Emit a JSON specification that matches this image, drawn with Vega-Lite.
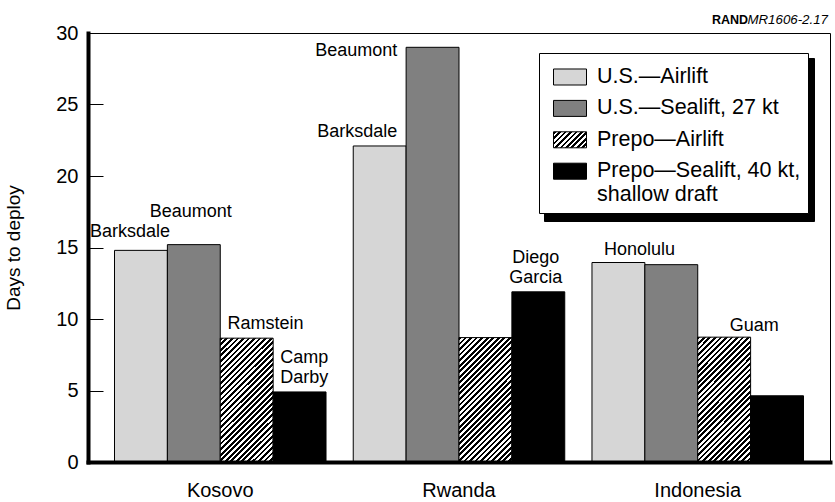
{
  "$schema": "https://vega.github.io/schema/vega-lite/v6.json",
  "width": 742,
  "height": 429,
  "autosize": {"type": "none"},
  "padding": {"left": 88, "top": 33, "right": 5, "bottom": 40},
  "background": "white",
  "config": {
    "font": "Liberation Sans",
    "view": {"stroke": "black", "strokeWidth": 1},
    "axis": {"grid": false}
  },
  "title": {
    "text": "RAND\u2800\u2800\u2800\u2800\u2800\u2800\u2800\u2800",
    "subtitle": "MR1606-2.17",
    "anchor": "end",
    "frame": "group",
    "fontSize": 12.5,
    "fontWeight": "bold",
    "color": "black",
    "subtitleFontSize": 13.3,
    "subtitleFontStyle": "italic",
    "subtitleFontWeight": "normal",
    "subtitleColor": "black",
    "subtitlePadding": -13,
    "offset": -4,
    "dx": -2
  },
  "data": {
    "values": [
      {"region": "Kosovo", "series": "U.S.—Airlift", "days": 14.8, "label": "Barksdale"},
      {"region": "Kosovo", "series": "U.S.—Sealift, 27 kt", "days": 15.2, "label": "Beaumont"},
      {"region": "Kosovo", "series": "Prepo—Airlift", "days": 8.66, "label": "Ramstein"},
      {"region": "Kosovo", "series": "Prepo—Sealift, 40 kt, shallow draft", "days": 4.9, "label": "Camp\nDarby"},
      {"region": "Rwanda", "series": "U.S.—Airlift", "days": 22.1, "label": "Barksdale"},
      {"region": "Rwanda", "series": "U.S.—Sealift, 27 kt", "days": 29.0, "label": "Beaumont"},
      {"region": "Rwanda", "series": "Prepo—Airlift", "days": 8.7, "label": ""},
      {"region": "Rwanda", "series": "Prepo—Sealift, 40 kt, shallow draft", "days": 11.9, "label": "Diego\nGarcia"},
      {"region": "Indonesia", "series": "U.S.—Airlift", "days": 13.95, "label": "Honolulu"},
      {"region": "Indonesia", "series": "U.S.—Sealift, 27 kt", "days": 13.8, "label": ""},
      {"region": "Indonesia", "series": "Prepo—Airlift", "days": 8.73, "label": "Guam"},
      {"region": "Indonesia", "series": "Prepo—Sealift, 40 kt, shallow draft", "days": 4.63, "label": ""}
    ]
  },
  "encoding": {
    "x": {
      "field": "region",
      "type": "nominal",
      "sort": ["Kosovo", "Rwanda", "Indonesia"],
      "scale": {"paddingInner": 0.114, "paddingOuter": 0.111},
      "axis": {
        "title": null,
        "ticks": false,
        "domainWidth": 4,
        "domainColor": "black",
        "domainCap": "square",
        "labelFontSize": 20,
        "labelPadding": 18,
        "labelAngle": 0,
        "labelColor": "black",
        "zindex": 1
      }
    },
    "xOffset": {
      "field": "series",
      "type": "nominal",
      "scale": {
        "domain": ["U.S.—Airlift", "U.S.—Sealift, 27 kt", "Prepo—Airlift", "Prepo—Sealift, 40 kt, shallow draft"],
        "paddingInner": 0,
        "paddingOuter": 0
      }
    },
    "y": {
      "field": "days",
      "type": "quantitative",
      "scale": {"domain": [0, 30], "nice": false},
      "axis": {
        "values": [0, 5, 10, 15, 20, 25, 30],
        "tickSize": -15,
        "tickWidth": 1,
        "tickColor": "black",
        "labelPadding": 25,
        "labelFontSize": 20,
        "labelColor": "black",
        "domainWidth": 4,
        "domainColor": "black",
        "domainCap": "square",
        "title": "Days to deploy",
        "titleFontSize": 19,
        "titleFontWeight": "normal",
        "titleColor": "black",
        "titleX": -65,
        "titleY": 214.5,
        "titleBaseline": "bottom",
        "titleAlign": "center",
        "zindex": 1
      }
    }
  },
  "layer": [
    {
      "mark": {"type": "bar", "stroke": "black", "strokeWidth": 1},
      "encoding": {
        "fill": {
          "field": "series",
          "type": "nominal",
          "scale": {
            "domain": ["U.S.—Airlift", "U.S.—Sealift, 27 kt", "Prepo—Airlift", "Prepo—Sealift, 40 kt, shallow draft"],
            "range": [
              "#d6d6d6",
              "#808080",
              {"expr": "{gradient: 'linear', x1: 0, y1: 0, x2: 1.2022, y2: 0.5829, stops: [{offset: 0, color: '#000'}, {offset: 0.0556, color: '#000'}, {offset: 0.0556, color: '#fff'}, {offset: 0.1111, color: '#fff'}, {offset: 0.1111, color: '#000'}, {offset: 0.1667, color: '#000'}, {offset: 0.1667, color: '#fff'}, {offset: 0.2222, color: '#fff'}, {offset: 0.2222, color: '#000'}, {offset: 0.2778, color: '#000'}, {offset: 0.2778, color: '#fff'}, {offset: 0.3333, color: '#fff'}, {offset: 0.3333, color: '#000'}, {offset: 0.3889, color: '#000'}, {offset: 0.3889, color: '#fff'}, {offset: 0.4444, color: '#fff'}, {offset: 0.4444, color: '#000'}, {offset: 0.5, color: '#000'}, {offset: 0.5, color: '#fff'}, {offset: 0.5556, color: '#fff'}, {offset: 0.5556, color: '#000'}, {offset: 0.6111, color: '#000'}, {offset: 0.6111, color: '#fff'}, {offset: 0.6667, color: '#fff'}, {offset: 0.6667, color: '#000'}, {offset: 0.7222, color: '#000'}, {offset: 0.7222, color: '#fff'}, {offset: 0.7778, color: '#fff'}, {offset: 0.7778, color: '#000'}, {offset: 0.8333, color: '#000'}, {offset: 0.8333, color: '#fff'}, {offset: 0.8889, color: '#fff'}, {offset: 0.8889, color: '#000'}, {offset: 0.9444, color: '#000'}, {offset: 0.9444, color: '#fff'}, {offset: 1, color: '#fff'}]}"},
              "#000000"
            ]
          },
          "condition": {
            "test": "datum.series === 'Prepo—Airlift'",
            "value": {
              "gradient": "linear",
              "x1": 0, "y1": 0, "x2": 0.5132, "y2": 1.207,
              "stops": [
                {"offset": 0, "color": "#000"}, {"offset": 0.015625, "color": "#000"}, {"offset": 0.015625, "color": "#fff"}, {"offset": 0.03125, "color": "#fff"},
                {"offset": 0.03125, "color": "#000"}, {"offset": 0.046875, "color": "#000"}, {"offset": 0.046875, "color": "#fff"}, {"offset": 0.0625, "color": "#fff"},
                {"offset": 0.0625, "color": "#000"}, {"offset": 0.078125, "color": "#000"}, {"offset": 0.078125, "color": "#fff"}, {"offset": 0.09375, "color": "#fff"},
                {"offset": 0.09375, "color": "#000"}, {"offset": 0.109375, "color": "#000"}, {"offset": 0.109375, "color": "#fff"}, {"offset": 0.125, "color": "#fff"},
                {"offset": 0.125, "color": "#000"}, {"offset": 0.140625, "color": "#000"}, {"offset": 0.140625, "color": "#fff"}, {"offset": 0.15625, "color": "#fff"},
                {"offset": 0.15625, "color": "#000"}, {"offset": 0.171875, "color": "#000"}, {"offset": 0.171875, "color": "#fff"}, {"offset": 0.1875, "color": "#fff"},
                {"offset": 0.1875, "color": "#000"}, {"offset": 0.203125, "color": "#000"}, {"offset": 0.203125, "color": "#fff"}, {"offset": 0.21875, "color": "#fff"},
                {"offset": 0.21875, "color": "#000"}, {"offset": 0.234375, "color": "#000"}, {"offset": 0.234375, "color": "#fff"}, {"offset": 0.25, "color": "#fff"},
                {"offset": 0.25, "color": "#000"}, {"offset": 0.265625, "color": "#000"}, {"offset": 0.265625, "color": "#fff"}, {"offset": 0.28125, "color": "#fff"},
                {"offset": 0.28125, "color": "#000"}, {"offset": 0.296875, "color": "#000"}, {"offset": 0.296875, "color": "#fff"}, {"offset": 0.3125, "color": "#fff"},
                {"offset": 0.3125, "color": "#000"}, {"offset": 0.328125, "color": "#000"}, {"offset": 0.328125, "color": "#fff"}, {"offset": 0.34375, "color": "#fff"},
                {"offset": 0.34375, "color": "#000"}, {"offset": 0.359375, "color": "#000"}, {"offset": 0.359375, "color": "#fff"}, {"offset": 0.375, "color": "#fff"},
                {"offset": 0.375, "color": "#000"}, {"offset": 0.390625, "color": "#000"}, {"offset": 0.390625, "color": "#fff"}, {"offset": 0.40625, "color": "#fff"},
                {"offset": 0.40625, "color": "#000"}, {"offset": 0.421875, "color": "#000"}, {"offset": 0.421875, "color": "#fff"}, {"offset": 0.4375, "color": "#fff"},
                {"offset": 0.4375, "color": "#000"}, {"offset": 0.453125, "color": "#000"}, {"offset": 0.453125, "color": "#fff"}, {"offset": 0.46875, "color": "#fff"},
                {"offset": 0.46875, "color": "#000"}, {"offset": 0.484375, "color": "#000"}, {"offset": 0.484375, "color": "#fff"}, {"offset": 0.5, "color": "#fff"},
                {"offset": 0.5, "color": "#000"}, {"offset": 0.515625, "color": "#000"}, {"offset": 0.515625, "color": "#fff"}, {"offset": 0.53125, "color": "#fff"},
                {"offset": 0.53125, "color": "#000"}, {"offset": 0.546875, "color": "#000"}, {"offset": 0.546875, "color": "#fff"}, {"offset": 0.5625, "color": "#fff"},
                {"offset": 0.5625, "color": "#000"}, {"offset": 0.578125, "color": "#000"}, {"offset": 0.578125, "color": "#fff"}, {"offset": 0.59375, "color": "#fff"},
                {"offset": 0.59375, "color": "#000"}, {"offset": 0.609375, "color": "#000"}, {"offset": 0.609375, "color": "#fff"}, {"offset": 0.625, "color": "#fff"},
                {"offset": 0.625, "color": "#000"}, {"offset": 0.640625, "color": "#000"}, {"offset": 0.640625, "color": "#fff"}, {"offset": 0.65625, "color": "#fff"},
                {"offset": 0.65625, "color": "#000"}, {"offset": 0.671875, "color": "#000"}, {"offset": 0.671875, "color": "#fff"}, {"offset": 0.6875, "color": "#fff"},
                {"offset": 0.6875, "color": "#000"}, {"offset": 0.703125, "color": "#000"}, {"offset": 0.703125, "color": "#fff"}, {"offset": 0.71875, "color": "#fff"},
                {"offset": 0.71875, "color": "#000"}, {"offset": 0.734375, "color": "#000"}, {"offset": 0.734375, "color": "#fff"}, {"offset": 0.75, "color": "#fff"},
                {"offset": 0.75, "color": "#000"}, {"offset": 0.765625, "color": "#000"}, {"offset": 0.765625, "color": "#fff"}, {"offset": 0.78125, "color": "#fff"},
                {"offset": 0.78125, "color": "#000"}, {"offset": 0.796875, "color": "#000"}, {"offset": 0.796875, "color": "#fff"}, {"offset": 0.8125, "color": "#fff"},
                {"offset": 0.8125, "color": "#000"}, {"offset": 0.828125, "color": "#000"}, {"offset": 0.828125, "color": "#fff"}, {"offset": 0.84375, "color": "#fff"},
                {"offset": 0.84375, "color": "#000"}, {"offset": 0.859375, "color": "#000"}, {"offset": 0.859375, "color": "#fff"}, {"offset": 0.875, "color": "#fff"},
                {"offset": 0.875, "color": "#000"}, {"offset": 0.890625, "color": "#000"}, {"offset": 0.890625, "color": "#fff"}, {"offset": 0.90625, "color": "#fff"},
                {"offset": 0.90625, "color": "#000"}, {"offset": 0.921875, "color": "#000"}, {"offset": 0.921875, "color": "#fff"}, {"offset": 0.9375, "color": "#fff"},
                {"offset": 0.9375, "color": "#000"}, {"offset": 0.953125, "color": "#000"}, {"offset": 0.953125, "color": "#fff"}, {"offset": 0.96875, "color": "#fff"},
                {"offset": 0.96875, "color": "#000"}, {"offset": 0.984375, "color": "#000"}, {"offset": 0.984375, "color": "#fff"}, {"offset": 1, "color": "#fff"}
              ]
            }
          },
          "legend": {
            "orient": "none",
            "legendX": 451,
            "legendY": 20,
            "title": null,
            "padding": 7,
            "symbolOffset": 7,
            "fillColor": "white",
            "strokeColor": "black",
            "symbolType": "M-1,-0.485H1V0.485H-1Z",
            "symbolSize": 1089,
            "symbolStrokeColor": "black",
            "symbolStrokeWidth": 1,
            "labelFontSize": 21.5,
            "labelColor": "black",
            "labelOffset": 10,
            "labelLimit": 400,
            "rowPadding": 3.4,
            "labelExpr": "datum.value === 'Prepo—Sealift, 40 kt, shallow draft' ? ['Prepo—Sealift, 40 kt,', 'shallow draft'] : datum.label",
            "zindex": 3
          }
        },
        "opacity": {
          "field": "series",
          "type": "nominal",
          "sort": ["U.S.—Airlift", "U.S.—Sealift, 27 kt", "Prepo—Airlift", "Prepo—Sealift, 40 kt, shallow draft"],
          "scale": {"range": [1, 1, 1, 1]},
          "legend": {
            "orient": "none",
            "legendX": 456,
            "legendY": 25,
            "title": null,
            "padding": 7,
            "symbolOffset": 7,
            "fillColor": "black",
            "strokeColor": "black",
            "symbolType": "M-1,-0.485H1V0.485H-1Z",
            "symbolSize": 1089,
            "labelFontSize": 21.5,
            "labelColor": "black",
            "labelOffset": 10,
            "labelLimit": 400,
            "rowPadding": 3.4,
            "labelExpr": "datum.value === 'Prepo—Sealift, 40 kt, shallow draft' ? ['Prepo—Sealift, 40 kt,', 'shallow draft'] : datum.label",
            "zindex": 2
          }
        }
      }
    },
    {
      "transform": [{"filter": "datum.label !== ''"}],
      "mark": {
        "type": "text",
        "fontSize": 18,
        "baseline": "bottom",
        "lineBreak": "\n",
        "lineHeight": 19.5,
        "color": "black",
        "align": {"expr": "datum.region === 'Rwanda' && datum.series !== 'Prepo—Sealift, 40 kt, shallow draft' ? 'right' : 'center'"},
        "dx": {"expr": "datum.region === 'Kosovo' ? (datum.series === 'U.S.—Airlift' ? -11 : datum.series === 'U.S.—Sealift, 27 kt' ? -3 : datum.series === 'Prepo—Airlift' ? 18.7 : 4.6) : datum.region === 'Rwanda' ? (datum.series === 'U.S.—Airlift' ? 17.5 : datum.series === 'U.S.—Sealift, 27 kt' ? -35.3 : -2.5) : (datum.series === 'U.S.—Airlift' ? 21 : 30)"},
        "dy": {"expr": "datum.region === 'Kosovo' ? (datum.series === 'U.S.—Airlift' ? -9 : datum.series === 'U.S.—Sealift, 27 kt' ? -24 : datum.series === 'Prepo—Airlift' ? -5 : -24.8) : datum.region === 'Rwanda' ? (datum.series === 'U.S.—Airlift' ? -5 : datum.series === 'U.S.—Sealift, 27 kt' ? 12.3 : -24.5) : (datum.series === 'U.S.—Airlift' ? -3.7 : -2.6)"}
      },
      "encoding": {
        "text": {"field": "label"}
      }
    }
  ]
}
